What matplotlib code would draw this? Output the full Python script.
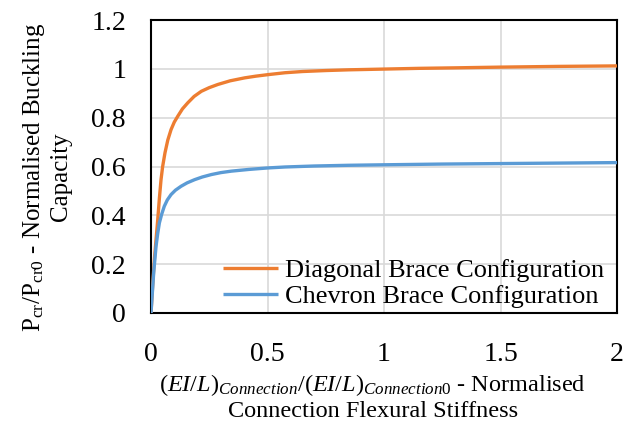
import matplotlib
matplotlib.use("Agg")
import matplotlib.pyplot as plt

plt.rcParams['font.family'] = ['Liberation Serif', 'DejaVu Serif']
plt.rcParams['mathtext.fontset'] = 'custom'
plt.rcParams['mathtext.rm'] = 'Liberation Serif'
plt.rcParams['mathtext.it'] = 'Liberation Serif:italic'

# curves
diag_x = [0, 0.005, 0.0144, 0.022, 0.029, 0.036, 0.043, 0.05, 0.06, 0.072, 0.086, 0.1,
          0.115, 0.135, 0.158, 0.185, 0.216, 0.25, 0.287, 0.34, 0.402, 0.45, 0.5, 0.575,
          0.65, 0.75, 0.85, 1.0, 1.15, 1.3, 1.5, 1.75, 2.0]
diag_y = [0, 0.08, 0.219, 0.305, 0.383, 0.47, 0.546, 0.6, 0.656, 0.708, 0.751, 0.782,
          0.806, 0.836, 0.861, 0.887, 0.908, 0.923, 0.936, 0.951, 0.963, 0.97, 0.976, 0.984,
          0.989, 0.993, 0.996, 0.999, 1.002, 1.004, 1.007, 1.01, 1.012]
chev_x = [0, 0.0115, 0.0216, 0.029, 0.036, 0.046, 0.057, 0.07, 0.086, 0.105, 0.129, 0.155,
          0.187, 0.22, 0.259, 0.3, 0.345, 0.42, 0.5, 0.575, 0.7, 0.85, 1.0, 1.25, 1.5,
          1.75, 2.0]
chev_y = [0, 0.164, 0.273, 0.327, 0.369, 0.405, 0.437, 0.463, 0.485, 0.503, 0.519, 0.533,
          0.546, 0.557, 0.567, 0.575, 0.581, 0.588, 0.594, 0.598, 0.602, 0.605, 0.607, 0.61,
          0.612, 0.614, 0.616]

fig = plt.figure(figsize=(6.3, 4.26), dpi=100)
ax = fig.add_axes([151/630, 1 - 313/426, 466/630, 293/426])

ax.plot(diag_x, diag_y, color='#ed7d31', lw=2.4, label='Diagonal Brace Configuration',
        solid_capstyle='butt', zorder=3)
ax.plot(chev_x, chev_y, color='#5b9bd5', lw=2.4, label='Chevron Brace Configuration',
        solid_capstyle='butt', zorder=3)

ax.set_xlim(0, 2)
ax.set_ylim(0, 1.2)
ax.set_xticks([0, 0.5, 1, 1.5, 2])
ax.set_xticklabels(['0', '0.5', '1', '1.5', '2'])
ax.set_yticks([0, 0.2, 0.4, 0.6, 0.8, 1, 1.2])
ax.set_yticklabels(['0', '0.2', '0.4', '0.6', '0.8', '1', '1.2'])
ax.tick_params(length=0, labelsize=20)
ax.tick_params(axis='y', pad=18)
ax.tick_params(axis='x', pad=21)
ax.grid(True, color='#d9d9d9', lw=1.2)
ax.set_axisbelow(True)
for s in ax.spines.values():
    s.set_linewidth(1.5)
    s.set_color('black')

ax.set_ylabel('P$_{\\rm cr}$/P$_{\\rm cr0}$ - Normalised Buckling\nCapacity',
              fontsize=18, linespacing=1.15)
ax.yaxis.set_label_coords(-0.17, 0.464)
ax.set_xlabel('$\\mathit{(EI/L)}_{\\mathit{Connection}}$/$\\mathit{(EI/L)}_{\\mathit{Connection0}}$'
              ' - Normalised\nConnection Flexural Stiffness',
              fontsize=17.5, linespacing=1.2)
ax.xaxis.set_label_coords(0.476, -0.201)

ax.legend(loc='lower right', frameon=False, fontsize=19, handlelength=2.1,
          handletextpad=0.25, labelspacing=0.1, borderaxespad=0.0,
          bbox_to_anchor=(0.994, -0.02))

fig.savefig('out.png', dpi=100)
